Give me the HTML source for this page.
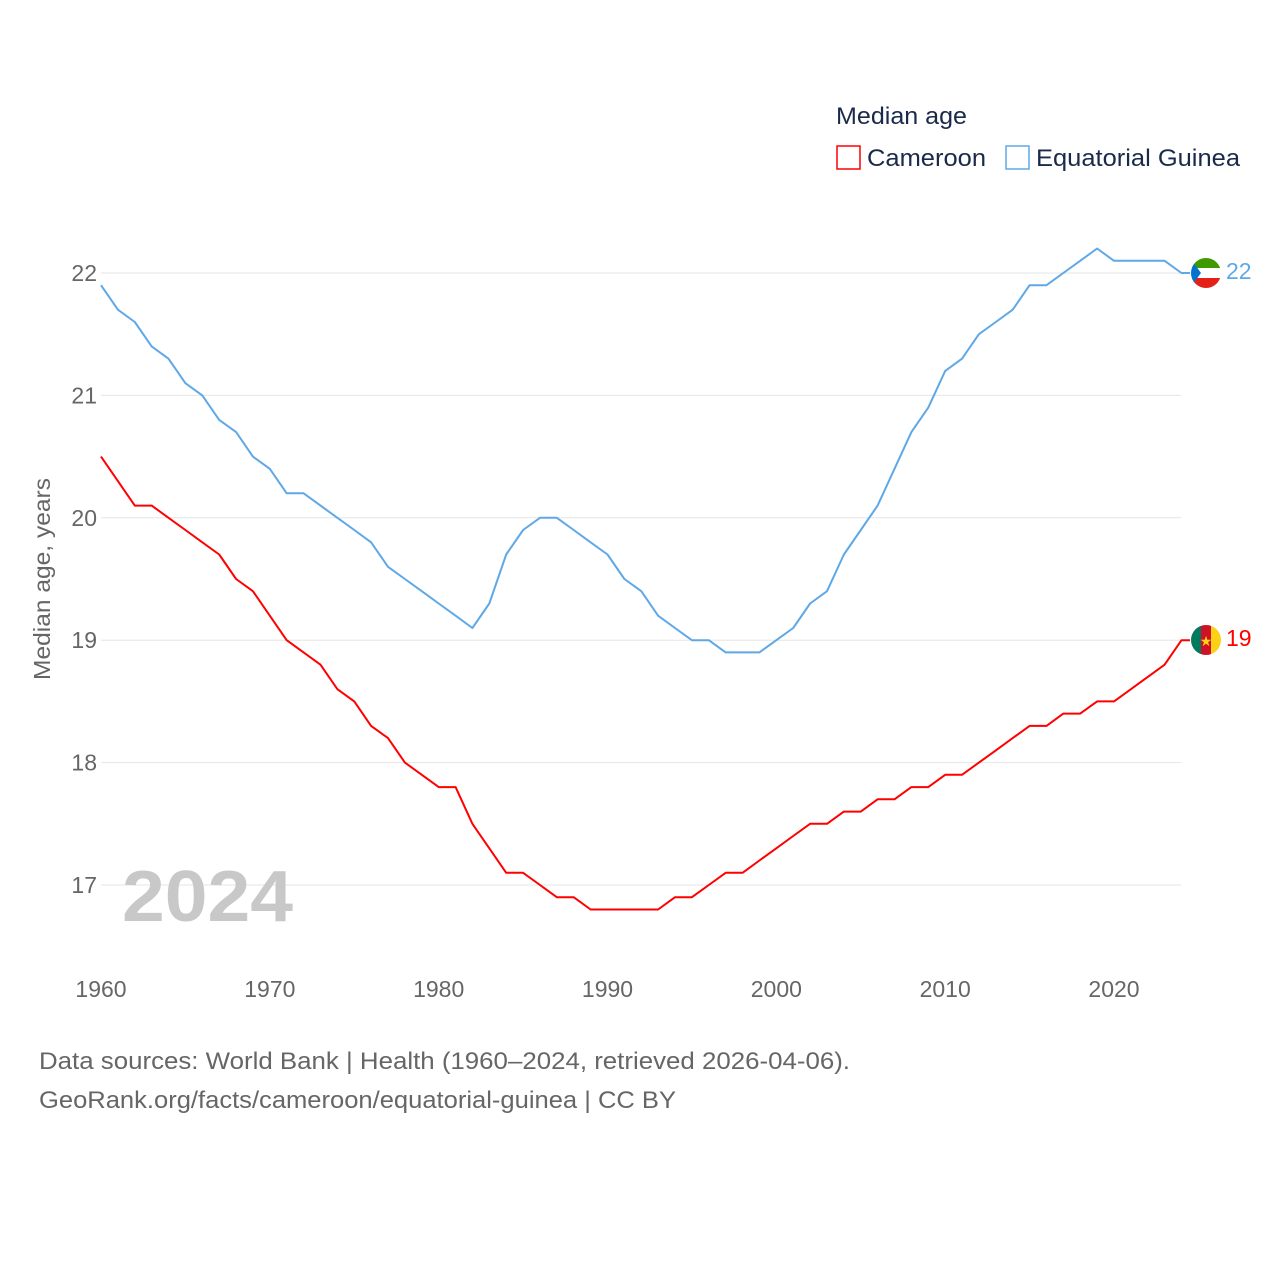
<!DOCTYPE html>
<html><head><meta charset="utf-8"><style>
body{margin:0;background:#fff;width:1280px;height:1280px;overflow:hidden;font-family:"Liberation Sans",sans-serif}
</style></head><body>
<svg id="chart" width="1280" height="1280" xmlns="http://www.w3.org/2000/svg" font-family="Liberation Sans, sans-serif">
<g id="grid"></g>
<g id="yticks"></g>
<g id="xticks"></g>
<text x="122" y="921" font-size="72" font-weight="bold" fill="#c8c8c8" textLength="171" lengthAdjust="spacingAndGlyphs">2024</text>
<text transform="translate(50,579) rotate(-90)" text-anchor="middle" font-size="23" fill="#666" textLength="202" lengthAdjust="spacingAndGlyphs">Median age, years</text>
<g id="series"></g>
<g>
<text x="836" y="124" font-size="24" fill="#1a2a4a" textLength="131" lengthAdjust="spacingAndGlyphs">Median age</text>
<rect x="837" y="146" width="23" height="23" fill="none" stroke="#f00" stroke-width="1.5"/>
<text x="867" y="166" font-size="24" fill="#1a2a4a" textLength="119" lengthAdjust="spacingAndGlyphs">Cameroon</text>
<rect x="1006" y="146" width="23" height="23" fill="none" stroke="#5fa8e8" stroke-width="1.5"/>
<text x="1036" y="166" font-size="24" fill="#1a2a4a" textLength="204" lengthAdjust="spacingAndGlyphs">Equatorial Guinea</text>
</g>
<g>
<clipPath id="c1"><circle cx="1206" cy="273" r="15"/></clipPath>
<g clip-path="url(#c1)"><rect x="1190" y="258" width="32" height="10" fill="#3e9a00"/><rect x="1190" y="268" width="32" height="10" fill="#fff"/><rect x="1190" y="278" width="32" height="10" fill="#e32118"/><polygon points="1190,258 1201,273 1190,288" fill="#0073ce"/></g></g>
<g>
<clipPath id="c2"><circle cx="1206" cy="640" r="15"/></clipPath>
<g clip-path="url(#c2)"><rect x="1190" y="625" width="11" height="30" fill="#007a5e"/><rect x="1201" y="625" width="10" height="30" fill="#ce1126"/><rect x="1211" y="625" width="11" height="30" fill="#fcd116"/><text x="1206" y="646" font-size="14" text-anchor="middle" fill="#fcd116">★</text></g></g>
<text x="1226" y="279" font-size="23" fill="#5fa8e8">22</text>
<text x="1226" y="646" font-size="23" fill="#f00">19</text>
<text x="39" y="1069" font-size="24" fill="#666" textLength="811" lengthAdjust="spacingAndGlyphs">Data sources: World Bank | Health (1960–2024, retrieved 2026-04-06).</text>
<text x="39" y="1108" font-size="24" fill="#666" textLength="637" lengthAdjust="spacingAndGlyphs">GeoRank.org/facts/cameroon/equatorial-guinea | CC BY</text>
</svg>
<script>
const years=[];for(let y=1960;y<=2024;y++)years.push(y);
const eqGuinea=[21.9,21.7,21.6,21.4,21.3,21.1,21.0,20.8,20.7,20.5,20.4,20.2,20.2,20.1,20.0,19.9,19.8,19.6,19.5,19.4,19.3,19.2,19.1,19.3,19.7,19.9,20.0,20.0,19.9,19.8,19.7,19.5,19.4,19.2,19.1,19.0,19.0,18.9,18.9,18.9,19.0,19.1,19.3,19.4,19.7,19.9,20.1,20.4,20.7,20.9,21.2,21.3,21.5,21.6,21.7,21.9,21.9,22.0,22.1,22.2,22.1,22.1,22.1,22.1,22.0];
const cameroon=[20.5,20.3,20.1,20.1,20.0,19.9,19.8,19.7,19.5,19.4,19.2,19.0,18.9,18.8,18.6,18.5,18.3,18.2,18.0,17.9,17.8,17.8,17.5,17.3,17.1,17.1,17.0,16.9,16.9,16.8,16.8,16.8,16.8,16.8,16.9,16.9,17.0,17.1,17.1,17.2,17.3,17.4,17.5,17.5,17.6,17.6,17.7,17.7,17.8,17.8,17.9,17.9,18.0,18.1,18.2,18.3,18.3,18.4,18.4,18.5,18.5,18.6,18.7,18.8,19.0];
const yTicks=[17,18,19,20,21,22];
const xTicks=[1960,1970,1980,1990,2000,2010,2020];
const NS="http://www.w3.org/2000/svg";
const x=v=>101+(v-1960)*(1013/60);
const y=v=>273+(22-v)*122.4;
function mk(tag,attrs,parent){const e=document.createElementNS(NS,tag);for(const k in attrs)e.setAttribute(k,attrs[k]);parent.appendChild(e);return e;}
const grid=document.getElementById('grid'),yt=document.getElementById('yticks'),xt=document.getElementById('xticks'),ser=document.getElementById('series');
yTicks.forEach(t=>{
 const l=mk('line',{x1:101,x2:1181,y1:y(t),y2:y(t),stroke:'#e6e6e6','stroke-width':1},grid);
 
 
 const tx=mk('text',{x:97,y:y(t)+8,'text-anchor':'end','font-size':23,fill:'#666'},yt);tx.textContent=t;
 
 
});
xTicks.forEach(t=>{
 const tx=mk('text',{x:x(t),y:997,'text-anchor':'middle','font-size':23,fill:'#666'},xt);tx.textContent=t;
 
 
});
function line(vals,color,name){
 let d=vals.map((v,i)=>(i?'L':'M')+x(years[i]).toFixed(1)+','+y(v).toFixed(1)).join(' ');
 d+=' L1190,'+y(vals[vals.length-1]).toFixed(1);
 const p=mk('path',{d:d,fill:'none',stroke:color,'stroke-width':2,'stroke-linejoin':'round'},ser);
 
 
}
line(eqGuinea,'#5fa8e8','line-equatorial-guinea');
line(cameroon,'#ff0000','line-cameroon');
</script>
</body></html>
